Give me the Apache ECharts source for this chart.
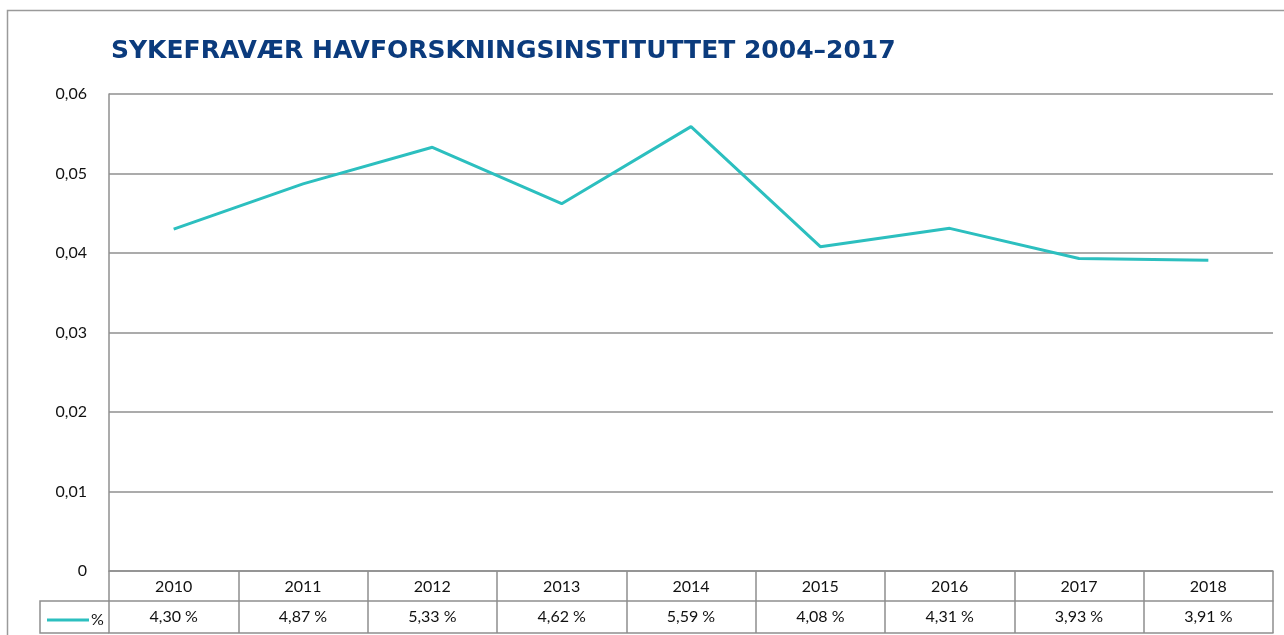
<!DOCTYPE html>
<html>
<head>
<meta charset="utf-8">
<script src="https://cdn.jsdelivr.net/npm/echarts@6/dist/echarts.min.js"></script>
<style>
  html, body { margin: 0; padding: 0; background: #fff; }
  #chart { width: 1284px; height: 635px; }
</style>
</head>
<body>
<div id="chart"></div>
<script>
// data
var years = ['2010', '2011', '2012', '2013', '2014', '2015', '2016', '2017', '2018'];
var sickLeave = [0.0430, 0.0487, 0.0533, 0.0462, 0.0559, 0.0408, 0.0431, 0.0393, 0.0391];
var seriesName = '%';
var titleText = 'SYKEFRAVÆR HAVFORSKNINGSINSTITUTTET 2004–2017';

var lineGray = '#8f8f8f';
var font = 'Lato, "Open Sans", sans-serif';

function pct(v) {
    return (v * 100).toFixed(2).replace('.', ',') + ' %';
}

var myChart = echarts.init(document.getElementById('chart'));
myChart.setOption({
    animation: false,
    title: {
        text: titleText,
        left: 106,
        top: 34,
        textStyle: { color: '#0b3b7d', fontSize: 25, fontWeight: 'bold', fontFamily: '"DejaVu Sans", sans-serif' }
    },
    legend: {
        data: [seriesName],
        left: 42,
        top: 607,
        icon: 'rect',
        itemWidth: 42,
        itemHeight: 3,
        itemGap: 4,
        textStyle: { fontSize: 16, color: '#111', fontFamily: font, padding: [0, 0, 0, -3] }
    },
    grid: { left: 109, right: 11, top: 94, bottom: 64 },
    xAxis: [{
        type: 'category',
        data: years,
        boundaryGap: true,
        axisLine: { lineStyle: { color: lineGray, width: 1.5 } },
        axisTick: { show: true, length: 62, lineStyle: { color: lineGray, width: 1.5 } },
        axisLabel: { margin: 8, fontSize: 16, color: '#111', fontFamily: font }
    }, {
        type: 'category',
        data: years,
        position: 'bottom',
        offset: 30,
        boundaryGap: true,
        axisLine: { lineStyle: { color: lineGray, width: 1.5 } },
        axisTick: { show: false },
        axisLabel: {
            margin: 8, fontSize: 16, color: '#111', fontFamily: font,
            formatter: function (v, i) { return pct(sickLeave[i]); }
        }
    }, {
        type: 'category',
        data: years,
        position: 'bottom',
        offset: 62,
        boundaryGap: true,
        axisLine: { lineStyle: { color: lineGray, width: 1.5 } },
        axisTick: { show: false },
        axisLabel: { show: false }
    }],
    yAxis: {
        type: 'value',
        min: 0,
        max: 0.06,
        interval: 0.01,
        axisLine: { show: true, lineStyle: { color: lineGray, width: 1.5 } },
        axisTick: { show: false },
        splitLine: { lineStyle: { color: lineGray, width: 1.5 } },
        axisLabel: {
            margin: 22, fontSize: 16, color: '#111', fontFamily: font,
            formatter: function (v) { return v === 0 ? '0' : v.toFixed(2).replace('.', ','); }
        }
    },
    graphic: [{
        type: 'rect',
        shape: { x: 7.5, y: 10.5, width: 1400, height: 800 },
        style: { fill: 'none', stroke: '#9a9a9a', lineWidth: 1.5 },
        z: -1
    }, {
        type: 'polyline',
        shape: { points: [[109, 601], [40, 601], [40, 633], [109, 633]] },
        style: { fill: 'none', stroke: lineGray, lineWidth: 1.5 }
    }],
    series: [{
        name: seriesName,
        type: 'line',
        data: sickLeave,
        showSymbol: false,
        symbol: 'none',
        lineStyle: { color: '#2cbfbf', width: 3 },
        itemStyle: { color: '#2cbfbf' }
    }]
});
</script>
</body>
</html>
